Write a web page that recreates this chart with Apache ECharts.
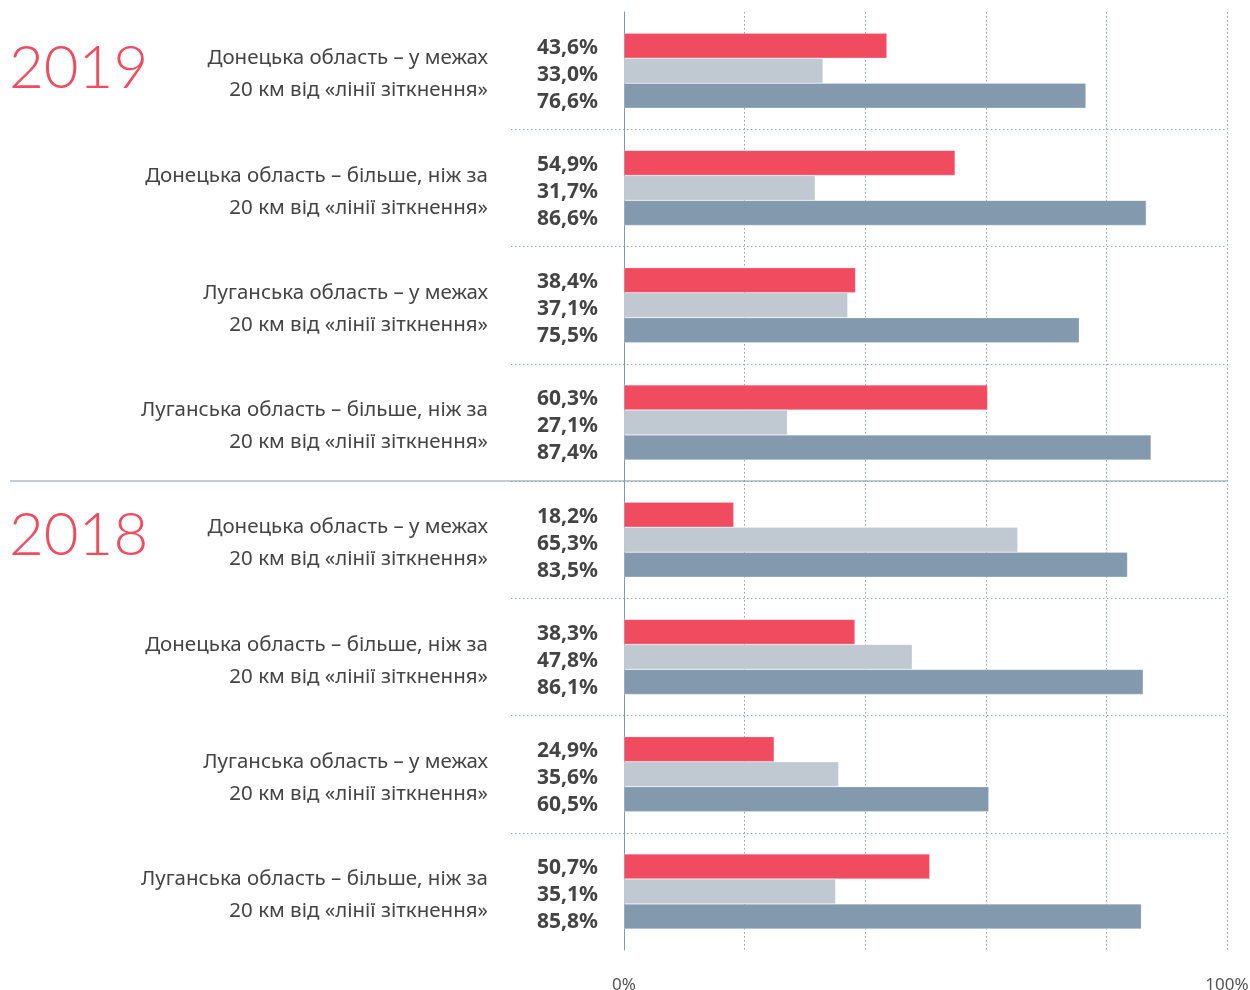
<!DOCTYPE html>
<html>
<head>
<meta charset="utf-8">
<script src="https://cdn.jsdelivr.net/npm/echarts@6/dist/echarts.min.js"></script>
<style>
  html, body { margin: 0; padding: 0; background: #fff; }
  #chartContainer { width: 1250px; height: 990px; }
</style>
</head>
<body>
<div id="chartContainer"></div>
<script>
var categories = [
    'Донецька область – у межах\n20 км від «лінії зіткнення»',
    'Донецька область – більше, ніж за\n20 км від «лінії зіткнення»',
    'Луганська область – у межах\n20 км від «лінії зіткнення»',
    'Луганська область – більше, ніж за\n20 км від «лінії зіткнення»',
    'Донецька область – у межах\n20 км від «лінії зіткнення»',
    'Донецька область – більше, ніж за\n20 км від «лінії зіткнення»',
    'Луганська область – у межах\n20 км від «лінії зіткнення»',
    'Луганська область – більше, ніж за\n20 км від «лінії зіткнення»'
];
var redValues = [43.6, 54.9, 38.4, 60.3, 18.2, 38.3, 24.9, 50.7];
var lightValues = [33.0, 31.7, 37.1, 27.1, 65.3, 47.8, 35.6, 35.1];
var darkValues = [76.6, 86.6, 75.5, 87.4, 83.5, 86.1, 60.5, 85.8];
var yearLabels = ['2019', '2018'];
var xTickLabels = { 0: '0%', 100: '100%' };

function Set_Chart(){
    var chartContainer = document.getElementById('chartContainer');
    var myChart = echarts.init(chartContainer, null, { renderer: 'canvas' });

    var gridTop = 12;
    var gridHeight = 938;
    var dotLine = { color: '#8fa2b5', width: 1, type: [1.5, 2.5] };

    function pctLabel(p) {
        return p.value.toFixed(1).replace('.', ',') + '%';
    }

    function makeSeries(name, data, color, dy) {
        return {
            name: name,
            type: 'bar',
            data: data,
            barWidth: 25,
            barGap: '0%',
            itemStyle: { color: color, borderColor: 'rgba(255,255,255,0.5)', borderWidth: 0.5 },
            label: {
                show: true,
                position: 'left',
                distance: 26,
                offset: [0, dy],
                formatter: pctLabel,
                fontFamily: 'Noto Sans',
                fontWeight: 'bold',
                fontSize: 21,
                color: '#444'
            }
        };
    }

    var catFont = { fontFamily: 'Noto Sans', fontSize: 20.5, color: '#444', align: 'right' };

    var option = {
        animation: false,
        grid: [
            { left: 624, right: 23, top: gridTop, height: gridHeight, outerBoundsMode: 'none' },
            { left: 511, right: 23, top: gridTop, height: gridHeight, outerBoundsMode: 'none' }
        ],
        xAxis: [
            {
                type: 'value', gridIndex: 0, min: 0, max: 100, interval: 20,
                axisLine: { show: false }, axisTick: { show: false },
                splitLine: { show: true, lineStyle: dotLine },
                axisLabel: {
                    margin: 27,
                    fontFamily: 'Noto Sans',
                    fontSize: 17,
                    color: '#555',
                    formatter: function (v) { return xTickLabels[v] || ''; }
                }
            },
            {
                type: 'value', gridIndex: 1, min: 0, max: 100, show: false
            }
        ],
        yAxis: [
            {
                type: 'category', gridIndex: 0, data: categories, inverse: true,
                axisLine: { show: true, lineStyle: { color: '#8399ad', width: 1 } },
                axisTick: { show: false },
                splitLine: { show: false },
                axisLabel: {
                    margin: 136,
                    align: 'right',
                    formatter: function (v) {
                        var lines = v.split('\n');
                        return '{a|' + lines[0] + '}\n{b|' + lines[1] + '}';
                    },
                    rich: {
                        a: Object.assign({ lineHeight: 40 }, catFont),
                        b: Object.assign({ lineHeight: 24 }, catFont)
                    }
                }
            },
            {
                type: 'category', gridIndex: 1, data: categories, inverse: true,
                axisLine: { show: false }, axisTick: { show: false }, axisLabel: { show: false },
                splitLine: { show: true, showMinLine: false, showMaxLine: false, lineStyle: dotLine }
            }
        ],
        graphic: [
            {
                type: 'line', z: 10,
                shape: { x1: 10, y1: gridTop + gridHeight / 2, x2: 1227, y2: gridTop + gridHeight / 2 },
                style: { stroke: '#8399ad', lineWidth: 1 }
            },
            {
                type: 'text', left: 9, top: 39,
                style: { text: yearLabels[0], fontFamily: 'Lato', fontWeight: 300, fontSize: 60, fill: '#f04b5e' }
            },
            {
                type: 'text', left: 9, top: 506,
                style: { text: yearLabels[1], fontFamily: 'Lato', fontWeight: 300, fontSize: 60, fill: '#f04b5e' }
            }
        ],
        series: [
            makeSeries('red', redValues, '#f04b5e', 2),
            makeSeries('light', lightValues, '#c0c9d2', 4),
            makeSeries('dark', darkValues, '#8399ad', 6)
        ]
    };

    myChart.setOption(option);
    window.addEventListener('resize', myChart.resize);
}
Set_Chart();
</script>
</body>
</html>
